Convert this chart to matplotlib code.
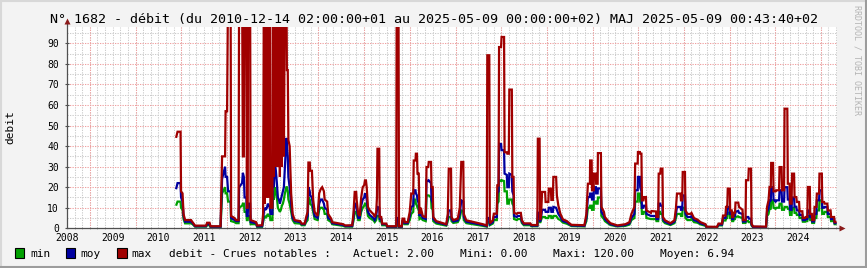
import numpy as np
import matplotlib
matplotlib.use('Agg')
import matplotlib.pyplot as plt
import matplotlib.dates as mdates
from matplotlib.lines import Line2D
from matplotlib.patches import Rectangle

# ---------------- data (days since 2008-07-01, debit values) ----------------
start_date = '2008-07-01'
days = [872, 884, 908, 912, 924, 932, 944, 992, 1004, 1024,
        1112, 1120, 1140, 1148, 1228, 1240, 1264, 1268, 1280, 1288,
        1308, 1312, 1340, 1352, 1372, 1376, 1400, 1406, 1414, 1420,
        1434, 1438, 1445, 1448, 1464, 1468, 1512, 1520, 1560, 1568,
        1574, 1582, 1590, 1598, 1606, 1614, 1622, 1626, 1642, 1646,
        1654, 1662, 1670, 1678, 1686, 1694, 1702, 1710, 1718, 1726,
        1734, 1742, 1754, 1758, 1765, 1770, 1780, 1792, 1804, 1820,
        1864, 1876, 1900, 1912, 1924, 1930, 1941, 1944, 1958, 1968,
        1980, 2004, 2016, 2028, 2040, 2054, 2060, 2080, 2088, 2112,
        2120, 2208, 2224, 2280, 2290, 2300, 2312, 2316, 2328, 2340,
        2352, 2364, 2376, 2382, 2390, 2396, 2406, 2420, 2448, 2460,
        2472, 2478, 2482, 2496, 2500, 2512, 2520, 2552, 2560, 2632,
        2636, 2650, 2654, 2676, 2682, 2696, 2700, 2724, 2740, 2752,
        2768, 2772, 2786, 2789, 2798, 2802, 2812, 2818, 2828, 2844,
        2868, 2874, 2888, 2892, 2910, 2914, 2924, 2928, 2952, 3032,
        3044, 3052, 3070, 3074, 3088, 3124, 3140, 3152, 3168, 3172,
        3192, 3324, 3356, 3360, 3376, 3380, 3404, 3412, 3436, 3440,
        3450, 3454, 3470, 3474, 3494, 3498, 3516, 3520, 3532, 3536,
        3556, 3560, 3570, 3574, 3596, 3604, 3628, 3636, 3652, 3704,
        3712, 3760, 3764, 3778, 3782, 3790, 3798, 3822, 3826, 3848,
        3852, 3868, 3872, 3884, 3888, 3910, 3916, 3928, 3944, 3964,
        3996, 4032, 4136, 4152, 4164, 4180, 4182, 4194, 4197, 4210,
        4212, 4228, 4230, 4242, 4244, 4268, 4272, 4292, 4300, 4320,
        4344, 4400, 4464, 4496, 4512, 4536, 4542, 4562, 4564, 4580,
        4582, 4592, 4596, 4608, 4612, 4628, 4632, 4668, 4672, 4708,
        4712, 4726, 4730, 4742, 4746, 4760, 4764, 4780, 4824, 4856,
        4868, 4876, 4904, 4908, 4918, 4922, 4940, 4944, 4960, 4984,
        4992, 5012, 5040, 5064, 5104, 5112, 5196, 5208, 5236, 5244,
        5264, 5268, 5278, 5282, 5298, 5301, 5314, 5317, 5326, 5330,
        5340, 5344, 5366, 5372, 5400, 5404, 5424, 5428, 5446, 5450,
        5468, 5472, 5484, 5588, 5596, 5608, 5616, 5626, 5629, 5644,
        5648, 5664, 5668, 5692, 5696, 5712, 5716, 5732, 5736, 5758,
        5762, 5776, 5780, 5792, 5796, 5812, 5816, 5830, 5834, 5852,
        5856, 5878, 5882, 5900, 5904, 5918, 5922, 5938, 5941, 5954,
        5957, 5972, 5976, 5990, 5994, 6012, 6015, 6034, 6037, 6052,
        6056, 6078, 6082, 6104, 6108, 6132, 6136, 6152]

maxv = [44, 47, 47, 18, 17, 7, 4, 4, 3, 1.3,
        1.3, 2.7, 2.7, 1.0, 1.0, 35, 35, 57, 57, 120,
        120, 6, 5, 4, 4, 120, 120, 35, 35, 120,
        120, 10, 10, 120, 120, 4, 3, 1.4, 1.5, 7,
        120, 12, 120, 15, 120, 15, 120, 10, 10, 120,
        25, 120, 30, 120, 30, 120, 25, 120, 30, 120,
        35, 120, 120, 77, 77, 43, 40, 17, 7, 4,
        3.5, 2.3, 2.3, 5.5, 8, 32, 32, 28, 28, 14,
        8, 6, 17, 19, 20, 18, 14, 13, 7, 4.7,
        3, 2.0, 1.4, 1.5, 7, 17.7, 17.7, 13.6, 7, 6,
        15, 20, 21, 23.3, 23.3, 20, 10.4, 8.7, 7, 5.5,
        8, 15, 38.7, 38.7, 5.5, 5.5, 2.3, 2.3, 1.0, 1.0,
        120, 120, 1.0, 1.0, 4.7, 4.7, 3, 3, 8, 16.9,
        16.9, 33, 33, 36.3, 36.3, 26.6, 26.6, 7, 10, 6,
        5.5, 29.8, 29.8, 32.3, 32.3, 20, 20, 5.5, 3.5, 2,
        7, 29, 29, 5.5, 4, 4.7, 10, 32.3, 32.3, 7,
        3.9, 2, 1.4, 84.2, 84.2, 2.4, 3.9, 7.1, 7.1, 20.9,
        20.9, 88.2, 88.2, 93.1, 93.1, 37, 37, 36.3, 36.3, 67.5,
        67.5, 25, 25, 7.5, 7, 7.5, 7.5, 4, 2.4, 2.4,
        1.6, 1.6, 43.6, 43.6, 4, 7, 17.7, 17.7, 12.8, 12.8,
        19.3, 19.3, 13.8, 13.8, 25, 25, 16, 11, 7.1, 4.4,
        3.5, 1.7, 1.5, 7, 21.7, 21.7, 33, 33, 18.5, 18.5,
        26.6, 26.6, 21.7, 21.7, 36.6, 36.6, 10.4, 8, 5.5, 4,
        2.5, 1.4, 2, 3, 7, 10.4, 31.5, 31.5, 37.1, 37.1,
        36.3, 36.3, 13.6, 13.6, 15.2, 15.2, 8.7, 7.5, 8.4, 8.2,
        5.5, 5.5, 26.6, 26.6, 29, 29, 5.5, 3.9, 2.5, 3.9,
        10, 16.9, 16.9, 13.6, 13.6, 27.4, 27.4, 8.7, 7, 7,
        7.5, 5, 4.2, 3, 2, 0.8, 0.7, 2.3, 2.3, 6.2,
        6.2, 10.4, 10.4, 19.3, 19.3, 8.7, 8.7, 5.5, 5.5, 7.6,
        7.6, 12.5, 12.5, 10.4, 9, 4, 4, 23.4, 23.4, 29,
        29, 2.3, 0.9, 0.8, 10.4, 13.6, 20.1, 20.1, 31.8, 31.8,
        18, 18, 18.5, 18.5, 29.8, 29.8, 18.5, 18.5, 58.2, 58.2,
        21.7, 21.7, 12, 12, 26.6, 26.6, 15.2, 15.2, 12.8, 12.8,
        8.3, 8.3, 5, 5, 5.5, 5.5, 20.1, 20.1, 7, 7,
        4, 4, 10.4, 10.4, 16.9, 16.9, 26.6, 26.6, 12.8, 12.8,
        12, 12, 8.7, 8.7, 5.5, 5.5, 3, 3]

moyv = [19, 22, 22, 15, 13, 6, 3.2, 3.2, 2.5, 1.0,
        1.0, 2.0, 2.0, 0.8, 0.8, 24, 30, 25, 25, 18,
        18, 5, 4, 3.5, 3.5, 20, 22, 27, 25, 15,
        15, 6, 6, 12, 12, 3, 2.5, 1.0, 1.0, 4,
        8, 10, 9, 10, 12, 11, 10, 7, 7, 30,
        20, 32, 28, 22, 15, 14, 12, 14, 16, 18,
        20, 30, 44, 40, 35, 25, 20, 12, 5, 3.5,
        3, 2, 2, 4, 6, 20, 18, 16, 15, 10,
        6, 5, 12, 14, 14, 12, 10, 9, 5, 4,
        2.5, 1.6, 1.1, 1.1, 5, 12, 12, 10, 5, 5,
        11, 14, 15, 17, 16, 14, 8, 6.5, 5, 4,
        6, 9, 10.4, 10, 4.5, 4.5, 2, 2, 0.8, 0.8,
        5, 5, 0.8, 0.8, 3.5, 3.5, 2.5, 2.5, 6, 10.4,
        11, 18.5, 18.5, 17, 16, 14, 12, 6, 7, 5,
        4.5, 23.3, 23, 23.3, 22, 14, 12, 4.5, 3, 1.7,
        5, 8.7, 8.7, 4.5, 3.3, 3.8, 7, 13.6, 13, 5.5,
        3.2, 1.6, 1.1, 5, 5, 2, 3, 5.5, 5.5, 17,
        18, 41.2, 41, 38, 38, 26.6, 26, 20, 20, 26.6,
        26, 18, 16, 6, 5.5, 6, 6, 3.3, 2, 2,
        1.3, 1.3, 7.6, 7.6, 3.3, 5.5, 9, 9, 8, 8,
        10, 10, 8, 8, 10.4, 10, 9, 7, 5.5, 3.5,
        2.9, 1.4, 1.2, 5, 15.2, 15.2, 16.9, 16.9, 14, 14,
        20, 20, 17, 17, 19.4, 19.4, 8, 6, 4.5, 3.3,
        2, 1.1, 1.6, 2.4, 5, 7, 18.5, 18.5, 25, 25,
        20, 18, 10, 10, 11, 11, 7, 6, 6, 6,
        4.5, 4.5, 12, 12, 11, 11, 4.5, 3.2, 2, 3.2,
        7, 10.4, 10.4, 9, 9, 16, 16, 7, 5.5, 5.5,
        6, 4, 3.4, 2.4, 1.6, 0.6, 0.5, 1.8, 1.8, 5,
        5, 7, 7, 10.4, 10.4, 7, 7, 4.5, 4.5, 6,
        6, 8, 8.5, 7.5, 7, 3.3, 3.3, 5.5, 5.5, 4.7,
        4.7, 1.8, 0.7, 0.6, 8, 9.5, 13.6, 13.6, 20, 20,
        14, 13, 13.6, 13.6, 18.5, 18.5, 13, 13, 20, 20,
        14, 14, 9, 9, 15, 15, 10.5, 10.5, 8.7, 8.7,
        6.5, 6.5, 4, 4, 4.5, 4.5, 8.7, 8.7, 5.5, 5.5,
        3.3, 3.3, 7, 7, 13.6, 13.6, 18.5, 18.5, 10, 10,
        10.4, 10.4, 7, 7, 4.5, 4.5, 2.5, 2.5]

minv = [11, 13, 13, 10, 9, 4.5, 2.4, 2.4, 2, 0.8,
        0.8, 1.5, 1.5, 0.5, 0.5, 17, 20, 17, 17, 13,
        13, 3.5, 3, 2.5, 2.5, 10, 11, 12, 12, 8,
        8, 4, 4, 6, 6, 2, 2, 0.7, 0.7, 3,
        5, 6, 5, 6, 7, 6, 6, 4, 4, 18,
        14, 20, 18, 15, 10, 9, 8, 9, 11, 12,
        14, 17, 20, 20, 18, 14, 12, 8, 4, 2.5,
        2.3, 1.5, 1.5, 3, 4, 15, 14, 12, 11, 8,
        4.5, 4, 9, 10, 10, 9, 7, 7, 4, 3,
        2, 1.2, 0.8, 0.8, 3.5, 8, 8, 7, 4, 4,
        8, 10, 11, 12, 12, 10, 6, 5, 4, 3,
        4, 6, 6, 6, 3.5, 3.5, 1.5, 1.5, 0.6, 0.6,
        2, 2, 0.6, 0.6, 2.5, 2.5, 2, 2, 4, 7,
        8, 14, 14, 12, 11, 10, 9, 4.5, 5, 4,
        3.5, 16, 16, 16, 15, 10, 9, 3.5, 2.3, 1.3,
        3.5, 5.5, 5.5, 3.5, 2.6, 3, 5, 8.7, 8.5, 4,
        2.5, 1.2, 0.8, 3, 3, 1.5, 2.3, 4, 4, 12,
        13, 23.4, 23, 23.4, 23, 18, 18, 12, 12, 14,
        14, 12, 11, 4.5, 4, 4.5, 4.5, 2.6, 1.5, 1.5,
        1, 1, 4, 4, 2.6, 4, 5.5, 5.5, 5, 5,
        6, 6, 5, 5, 6, 6, 5.5, 4.5, 4, 2.8,
        2.2, 1.1, 0.9, 3.5, 10, 10, 11, 11, 9, 9,
        13, 13, 12, 12, 15, 15, 6, 4.5, 3.5, 2.6,
        1.6, 0.9, 1.2, 1.8, 4, 5, 13, 13, 16.9, 16.9,
        13, 12, 7, 7, 8, 8, 5, 4.5, 4.5, 4.5,
        3.5, 3.5, 8, 8, 7, 7, 3.5, 2.5, 1.6, 2.5,
        5, 7, 7, 6, 6, 10, 10, 5, 4, 4,
        4.5, 3, 2.7, 1.9, 1.2, 0.5, 0.4, 1.4, 1.4, 3.8,
        3.8, 5, 5, 7.6, 7.6, 5, 5, 3.5, 3.5, 4.5,
        4.5, 5.5, 5.8, 5.5, 5, 2.6, 2.6, 3.5, 3.5, 3,
        3, 1.4, 0.5, 0.5, 6, 7, 9.6, 9.6, 13.6, 13.6,
        10, 9.5, 10, 10, 12, 12, 9, 9, 10.4, 10.4,
        9.5, 9.5, 6.5, 6.5, 10, 10, 7.5, 7.5, 6.5, 6.5,
        5, 5, 3.2, 3.2, 3.5, 3.5, 6, 6, 4, 4,
        2.6, 2.6, 5, 5, 8.7, 8.7, 13.6, 13.6, 7, 7,
        8, 8, 5.5, 5.5, 3.5, 3.5, 2, 2]

years = list(range(2008, 2025))
title = ("N° 1682 - débit (du 2010-12-14 02:00:00+01 au 2025-05-09 00:00:00+02) "
         "MAJ 2025-05-09 00:43:40+02")
legend_items = [("min", "#00a000"), ("moy", "#0000a0"), ("max", "#a00000")]
stats = ["debit - Crues notables :", "Actuel: 2.00", "Mini: 0.00",
         "Maxi: 120.00", "Moyen: 6.94"]

assert len(days) == len(maxv) == len(moyv) == len(minv)

# ---------------- figure ----------------
W, H = 867, 268
MONO = 'DejaVu Sans Mono'
fig = plt.figure(figsize=(W / 100, H / 100), dpi=100, facecolor='#f3f3f3')

def d2n(s):
    return mdates.date2num(np.datetime64(s))

x = d2n(start_date) + np.array(days, dtype=float)

ax = fig.add_axes([66.7 / W, 39.7 / H, (837.1 - 66.7) / W, (241.5 - 39.7) / H])
ax.set_facecolor('white')
ax.set_ylim(0, 98.2)
for s in ax.spines.values():
    s.set_visible(False)

# grid
grid_kw = dict(lw=0.75, ls=(0, (1.2, 1.2)), zorder=0)
for yr in range(2008, 2026):
    for m in (1, 3, 5, 7, 9, 11):
        ax.axvline(d2n(f'{yr}-{m:02d}-01'), color='#cccccc', **grid_kw)
for v in range(5, 100, 10):
    ax.axhline(v, color='#cccccc', **grid_kw)
for yr in range(2009, 2026):
    ax.axvline(d2n(f'{yr}-01-01'), color='#efa0a0', **grid_kw)
for v in range(10, 100, 10):
    ax.axhline(v, color='#efa0a0', **grid_kw)

# series
line_kw = dict(lw=1.6, solid_joinstyle='miter', solid_capstyle='butt')
ax.plot(x, minv, color='#00a000', zorder=3, **line_kw)
ax.plot(x, moyv, color='#0000a0', zorder=4, **line_kw)
ax.plot(x, maxv, color='#a00000', zorder=5, **line_kw)

# ticks
ax.set_yticks(range(0, 100, 10))
ax.set_yticklabels([str(v) for v in range(0, 100, 10)], family=MONO, fontsize=7)
ax.tick_params(axis='y', direction='inout', length=3, width=0.8,
               color='#505050', pad=4)
ax.set_xticks([d2n(f'{yr}-07-01') for yr in years])
ax.set_xticklabels([str(yr) for yr in years], family=MONO, fontsize=7)
ax.tick_params(axis='x', length=0, pad=3.5)
ax.set_xticks([d2n(f'{yr}-{m:02d}-01') for yr in range(2008, 2026)
               for m in (1, 3, 5, 7, 9, 11)], minor=True)
ax.tick_params(axis='x', which='minor', direction='inout', length=2,
               width=0.7, color='#b0b0b0')
ax.set_xlim(d2n('2008-06-29'), d2n('2025-05-09'))

# axis lines with arrows
ax.plot([0, 0], [0, 1.025], transform=ax.transAxes, color='#505050',
        lw=0.9, clip_on=False, zorder=6)
ax.plot([0, 1.006], [0, 0], transform=ax.transAxes, color='#505050',
        lw=0.9, clip_on=False, zorder=6)
ax.plot([0], [1.025], transform=ax.transAxes, marker='^', ms=4.5,
        color='#8b1a1a', clip_on=False, zorder=7, mec='none')
ax.plot([1.006], [0], transform=ax.transAxes, marker='>', ms=4.5,
        color='#8b1a1a', clip_on=False, zorder=7, mec='none')

# texts
fig.text(0.5, 1 - 19.5 / H, title, ha='center', va='center',
         family=MONO, fontsize=9.6, color='black')
fig.text(10.5 / W, 1 - 127 / H, 'debit', rotation=90, ha='center',
         va='center', family=MONO, fontsize=8)
fig.text(857.5 / W, 1 - 60 / H, 'RRDTOOL / TOBI OETIKER', rotation=270,
         ha='center', va='center', family=MONO, fontsize=6, color='#b4b4b4')

ly = 1 - 254 / H
sq_x = [15, 65.7, 117.3]
tx_x = [30, 80.7, 131.7]
for (lab, col), sx, tx in zip(legend_items, sq_x, tx_x):
    fig.add_artist(Rectangle((sx / W, (H - 258.3) / H), 9.4 / W, 10.4 / H,
                             transform=fig.transFigure, facecolor=col,
                             edgecolor='black', lw=0.8))
    fig.text(tx / W, ly, lab, ha='left', va='center', family=MONO, fontsize=8)
for s, sx in zip(stats, [169, 353, 460, 553, 660]):
    fig.text(sx / W, ly, s, ha='left', va='center', family=MONO, fontsize=8)

# frame
fig.add_artist(Line2D([0, 1], [1 - 1 / H, 1 - 1 / H], transform=fig.transFigure,
                      color='#d8d8d8', lw=1.5))
fig.add_artist(Line2D([1 / W, 1 / W], [0, 1], transform=fig.transFigure,
                      color='#d8d8d8', lw=1.5))
fig.add_artist(Line2D([0, 1], [1 / H, 1 / H], transform=fig.transFigure,
                      color='#9c9c9c', lw=1.5))
fig.add_artist(Line2D([1 - 1 / W, 1 - 1 / W], [0, 1], transform=fig.transFigure,
                      color='#9c9c9c', lw=1.5))

fig.savefig('out.png', dpi=100, facecolor=fig.get_facecolor())
